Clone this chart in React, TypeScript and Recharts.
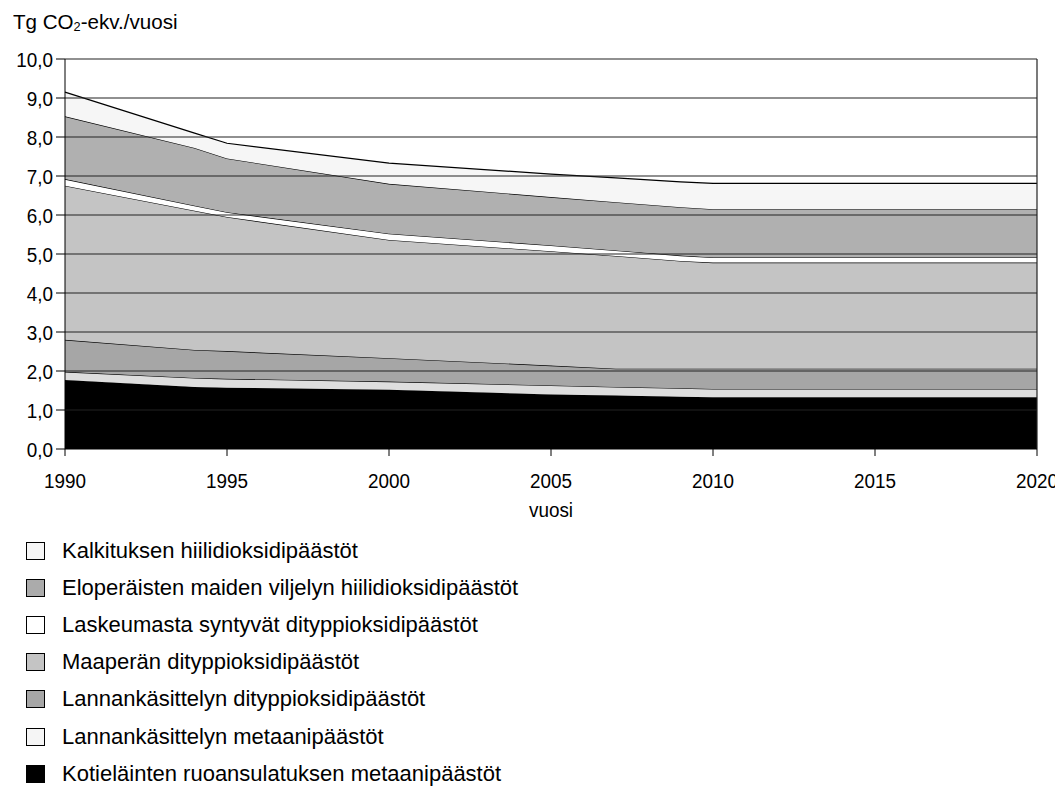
import React from 'react';
import { AreaChart, Area, XAxis, YAxis, ReferenceLine } from 'recharts';

const years = [1990, 1994, 1995, 2000, 2005, 2007, 2009, 2010, 2020];
const kotielain = [1.77, 1.59, 1.57, 1.52, 1.40, 1.37, 1.34, 1.33, 1.33];
const lannCH4 = [0.21, 0.23, 0.23, 0.21, 0.23, 0.22, 0.22, 0.21, 0.21];
const lannN2O = [0.82, 0.72, 0.71, 0.60, 0.51, 0.47, 0.50, 0.52, 0.52];
const maaN2O = [3.95, 3.57, 3.44, 3.03, 2.93, 2.89, 2.76, 2.72, 2.72];
const laskeuma = [0.17, 0.13, 0.12, 0.16, 0.15, 0.14, 0.14, 0.13, 0.13];
const eloperaiset = [1.61, 1.48, 1.38, 1.28, 1.24, 1.24, 1.24, 1.24, 1.24];
const kalkitus = [0.62, 0.38, 0.39, 0.53, 0.59, 0.62, 0.65, 0.66, 0.66];

const yTicks = [0, 1, 2, 3, 4, 5, 6, 7, 8, 9, 10];
const xTicks = [1990, 1995, 2000, 2005, 2010, 2015, 2020];

// bottom to top stacking order
const series = [
  { key: 'kotielain', name: 'Kotieläinten ruoansulatuksen metaanipäästöt', values: kotielain, fill: '#000000', legendFill: '#000000' },
  { key: 'lannCH4', name: 'Lannankäsittelyn metaanipäästöt', values: lannCH4, fill: '#dedede', legendFill: '#f5f5f5' },
  { key: 'lannN2O', name: 'Lannankäsittelyn dityppioksidipäästöt', values: lannN2O, fill: '#a6a6a6', legendFill: '#a6a6a6' },
  { key: 'maaN2O', name: 'Maaperän dityppioksidipäästöt', values: maaN2O, fill: '#c4c4c4', legendFill: '#c4c4c4' },
  { key: 'laskeuma', name: 'Laskeumasta syntyvät dityppioksidipäästöt', values: laskeuma, fill: '#ffffff', legendFill: '#ffffff' },
  { key: 'eloperaiset', name: 'Eloperäisten maiden viljelyn hiilidioksidipäästöt', values: eloperaiset, fill: '#b0b0b0', legendFill: '#ababab' },
  { key: 'kalkitus', name: 'Kalkituksen hiilidioksidipäästöt', values: kalkitus, fill: '#f6f6f6', legendFill: '#f6f6f6' },
];

const data = years.map((year, i) => {
  const row: Record<string, number> = { year };
  series.forEach((s) => {
    row[s.key] = s.values[i];
  });
  return row;
});

const FONT = "'Liberation Sans', Arial, sans-serif";
const SQUEEZE = 0.9;

const fmt = (v: number) => v.toFixed(1).replace('.', ',');

const YTick = (props: any) => {
  const { x, y, payload } = props;
  return (
    <g transform={`translate(${x},${y}) scale(${SQUEEZE},1)`}>
      <text x={0} y={0} dy="0.36em" textAnchor="end" fill="#000" fontSize={21} fontFamily={FONT}>
        {fmt(payload.value)}
      </text>
    </g>
  );
};

const XTick = (props: any) => {
  const { x, y, payload } = props;
  return (
    <g transform={`translate(${x},${y}) scale(${SQUEEZE},1)`}>
      <text x={0} y={0} dy="0.72em" textAnchor="middle" fill="#000" fontSize={21} fontFamily={FONT}>
        {payload.value}
      </text>
    </g>
  );
};

const XLabel = (props: any) => {
  const { viewBox } = props;
  const cx = viewBox.x + viewBox.width / 2;
  const by = viewBox.y + viewBox.height - 7;
  return (
    <g transform={`translate(${cx},${by}) scale(${SQUEEZE},1)`}>
      <text x={0} y={0} textAnchor="middle" fill="#000" fontSize={21} fontFamily={FONT}>
        vuosi
      </text>
    </g>
  );
};

export default function App() {
  return (
    <div style={{ position: 'relative', width: 1055, fontFamily: FONT, color: '#000' }}>
      <div
        style={{
          position: 'absolute',
          left: 5,
          top: 3,
          fontSize: 21,
          lineHeight: '22px',
          whiteSpace: 'nowrap',
          transform: 'scaleX(0.98)',
          transformOrigin: 'left center',
        }}
      >
        Tg CO<span style={{ fontSize: 13, verticalAlign: '-2px' }}>2</span>-ekv./vuosi
      </div>
      <AreaChart
        width={1055}
        height={520}
        data={data}
        margin={{ top: 51, right: 26, left: 7, bottom: 4 }}
      >
        <XAxis
          dataKey="year"
          type="number"
          domain={[1990, 2020]}
          ticks={xTicks}
          tickSize={7}
          tickMargin={17}
          height={75}
          axisLine={{ stroke: '#000' }}
          tickLine={{ stroke: '#000' }}
          tick={<XTick />}
          label={<XLabel />}
        />
        <YAxis
          type="number"
          domain={[0, 10]}
          ticks={yTicks}
          width={50}
          tickSize={9}
          tickMargin={3}
          interval={0}
          axisLine={{ stroke: '#000' }}
          tickLine={{ stroke: '#000' }}
          tick={<YTick />}
        />
        {series.map((s) => (
          <Area
            key={s.key}
            type="linear"
            dataKey={s.key}
            name={s.name}
            stackId="1"
            stroke="#000"
            strokeWidth={1.2}
            fill={s.fill}
            fillOpacity={1}
            isAnimationActive={false}
            dot={false}
            activeDot={false}
          />
        ))}
        {yTicks.filter((t) => t > 0).map((t) => (
          <ReferenceLine key={'g' + t} y={t} stroke="#222" strokeWidth={1.2} />
        ))}
        <ReferenceLine x={2020} stroke="#222" strokeWidth={1.2} />
      </AreaChart>
      <div style={{ marginTop: 4 }}>
        {[...series].reverse().map((s) => (
          <div
            key={s.key}
            style={{ height: 37.2, display: 'flex', alignItems: 'center', fontSize: 22, whiteSpace: 'nowrap' }}
          >
            <span
              style={{
                display: 'inline-block',
                flex: '0 0 auto',
                width: 19,
                height: 18,
                marginLeft: 18,
                marginRight: 17,
                background: s.legendFill,
                border: '1px solid #000',
                boxSizing: 'border-box',
              }}
            />
            <span>{s.name}</span>
          </div>
        ))}
      </div>
    </div>
  );
}
